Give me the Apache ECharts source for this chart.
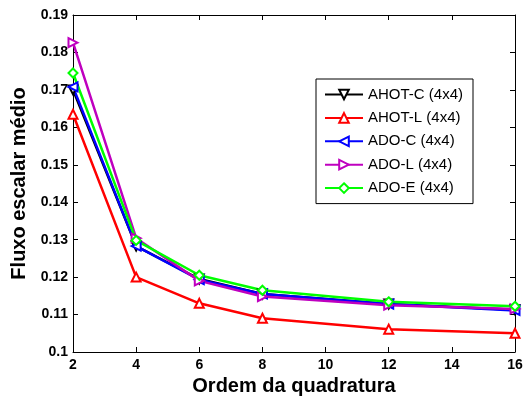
<!DOCTYPE html>
<html><head><meta charset="utf-8">
<script src="https://cdn.jsdelivr.net/npm/echarts@6/dist/echarts.min.js"></script>
<style>html,body{margin:0;padding:0;background:#fff}#c{width:528px;height:396px}</style>
</head><body><div id="c"></div>
<script>
const xValues = [2, 4, 6, 8, 12, 16];
const seriesNames = ['AHOT-C (4x4)', 'AHOT-L (4x4)', 'ADO-C (4x4)', 'ADO-L (4x4)', 'ADO-E (4x4)'];
const ahotC = [0.1700, 0.1283, 0.1195, 0.1155, 0.1128, 0.1113];
const ahotL = [0.1635, 0.1200, 0.1130, 0.1090, 0.1061, 0.1050];
const adoC  = [0.1708, 0.1283, 0.1193, 0.1155, 0.1128, 0.1111];
const adoL  = [0.1826, 0.1304, 0.1190, 0.1148, 0.1125, 0.1115];
const adoE  = [0.1745, 0.1298, 0.1205, 0.1165, 0.1134, 0.1122];
const xTitle = 'Ordem da quadratura';
const yTitle = 'Fluxo escalar médio';

const colors = ['#000000', '#ff0000', '#0000ff', '#bf00bf', '#00ff00'];
const symbols = ['triangle', 'triangle', 'triangle', 'triangle', 'diamond'];
const rotations = [180, 0, 90, -90, 0];
const allData = [ahotC, ahotL, adoC, adoL, adoE];
const font = '"Liberation Sans", Arial, sans-serif';

const chart = echarts.init(document.getElementById('c'), null, {renderer: 'canvas'});
const series = allData.map((vals, i) => ({
  name: seriesNames[i],
  type: 'line',
  data: xValues.map((x, j) => [x, vals[j]]),
  symbol: symbols[i],
  symbolRotate: rotations[i],
  symbolSize: 9,
  showAllSymbol: true,
  lineStyle: {color: colors[i], width: 2.5},
  itemStyle: {color: '#ffffff', borderColor: colors[i], borderWidth: 2},
  emphasis: {disabled: true},
  animation: false
}));

chart.setOption({
  animation: false,
  grid: {left: 73, right: 13, top: 15, bottom: 44, containLabel: false, outerBoundsMode: 'none'},
  legend: {
    orient: 'vertical',
    left: 316, top: 79,
    padding: [8, 10, 8, 8],
    itemGap: 8.4,
    itemWidth: 38, itemHeight: 12,
    borderColor: '#000', borderWidth: 1,
    backgroundColor: '#fff',
    symbolRotate: 'inherit',
    textStyle: {fontFamily: font, fontSize: 15, lineHeight: 14, color: '#000', padding: [0, 0, 0, 0]},
    data: seriesNames
  },
  xAxis: [{
    type: 'value', min: 2, max: 16, interval: 2,
    position: 'bottom',
    name: xTitle, nameLocation: 'middle', nameGap: 23,
    nameTextStyle: {fontFamily: font, fontSize: 20, fontWeight: 'bold', color: '#000', verticalAlign: 'top'},
    axisLine: {lineStyle: {color: '#000', width: 1}},
    axisTick: {inside: true, length: 5, lineStyle: {color: '#000'}},
    axisLabel: {fontFamily: font, fontSize: 14, fontWeight: 'bold', color: '#000', margin: 6},
    splitLine: {show: false}
  }, {
    type: 'value', min: 2, max: 16, interval: 2,
    position: 'top',
    axisLine: {lineStyle: {color: '#000', width: 1}},
    axisTick: {inside: true, length: 5, lineStyle: {color: '#000'}},
    axisLabel: {show: false},
    splitLine: {show: false}
  }],
  yAxis: [{
    type: 'value', min: 0.1, max: 0.19, interval: 0.01,
    position: 'left',
    name: yTitle, nameLocation: 'middle', nameGap: 42, nameRotate: 90,
    nameTextStyle: {fontFamily: font, fontSize: 20, fontWeight: 'bold', color: '#000'},
    axisLine: {lineStyle: {color: '#000', width: 1}},
    axisTick: {inside: true, length: 5, lineStyle: {color: '#000'}},
    axisLabel: {fontFamily: font, fontSize: 14, fontWeight: 'bold', color: '#000', margin: 5,
      formatter: v => String(+v.toFixed(2))},
    splitLine: {show: false}
  }, {
    type: 'value', min: 0.1, max: 0.19, interval: 0.01,
    position: 'right',
    axisLine: {lineStyle: {color: '#000', width: 1}},
    axisTick: {inside: true, length: 5, lineStyle: {color: '#000'}},
    axisLabel: {show: false},
    splitLine: {show: false}
  }],
  series: series
});
</script>
</body></html>
